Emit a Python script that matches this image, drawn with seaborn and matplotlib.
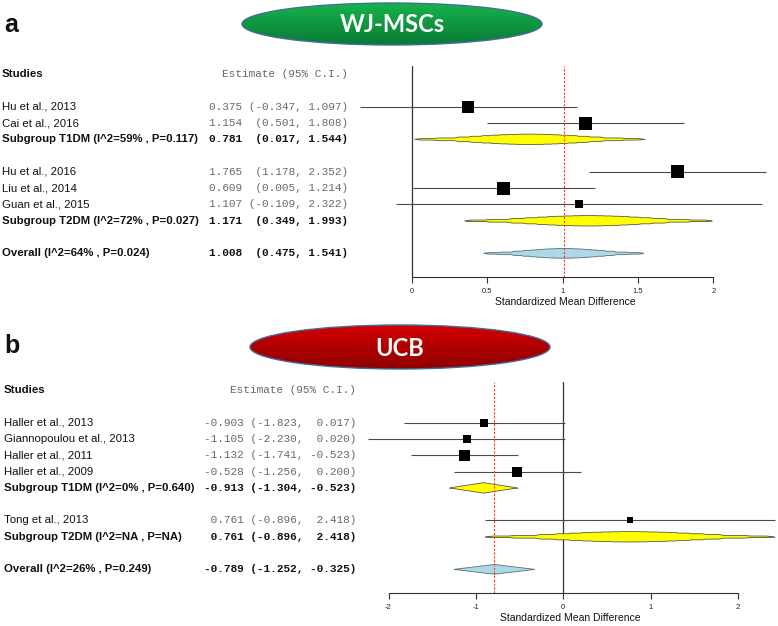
import numpy as np
import matplotlib
matplotlib.use("Agg")
import matplotlib.pyplot as plt
import matplotlib.transforms as mtransforms
from matplotlib.patches import Ellipse, Polygon
from matplotlib.colors import LinearSegmentedColormap
import pandas as pd
import seaborn as sns

# ---- panel a : WJ-MSCs ----
a_studies = ["Hu et al., 2013", "Cai et al., 2016", "Hu et al., 2016", "Liu et al., 2014", "Guan et al., 2015"]
a_group = ["T1DM", "T1DM", "T2DM", "T2DM", "T2DM"]
a_est = [0.375, 1.154, 1.765, 0.609, 1.107]
a_lo = [-0.347, 0.501, 1.178, 0.005, -0.109]
a_hi = [1.097, 1.808, 2.352, 1.214, 2.322]
a_box = [12, 13, 13, 13, 8]  # box side (px), reflects weight
a_sub_names = ["T1DM", "T2DM"]
a_sub_labels = ["Subgroup T1DM (I^2=59% , P=0.117)", "Subgroup T2DM (I^2=72% , P=0.027)"]
a_sub_est = [0.781, 1.171]
a_sub_lo = [0.017, 0.349]
a_sub_hi = [1.544, 1.993]
a_ov_label = "Overall (I^2=64% , P=0.024)"
a_ov = [1.008, 0.475, 1.541]
a_ticks = [0, 0.5, 1, 1.5, 2]

# ---- panel b : UCB ----
b_studies = ["Haller et al., 2013", "Giannopoulou et al., 2013", "Haller et al., 2011",
             "Haller et al., 2009", "Tong et al., 2013"]
b_group = ["T1DM", "T1DM", "T1DM", "T1DM", "T2DM"]
b_est = [-0.903, -1.105, -1.132, -0.528, 0.761]
b_lo = [-1.823, -2.230, -1.741, -1.256, -0.896]
b_hi = [0.017, 0.020, -0.523, 0.200, 2.418]
b_box = [8, 8, 11, 10, 6]
b_sub_names = ["T1DM", "T2DM"]
b_sub_labels = ["Subgroup T1DM (I^2=0% , P=0.640)", "Subgroup T2DM (I^2=NA , P=NA)"]
b_sub_est = [-0.913, 0.761]
b_sub_lo = [-1.304, -0.896]
b_sub_hi = [-0.523, 2.418]
b_ov_label = "Overall (I^2=26% , P=0.249)"
b_ov = [-0.789, -1.252, -0.325]
b_ticks = [-2, -1, 0, 1, 2]

W, H = 778, 626
# nested steps of the "spindle" summary shape (normal quantiles)
Z_STEPS = [1.96, 1.645, 1.28, 1.04, 0.84, 0.67, 0.52, 0.39, 0.25, 0.13]

sns.set_theme(style="white")
plt.rcParams['font.family'] = ['Liberation Sans', 'DejaVu Sans']
MONO = ["Liberation Mono", "DejaVu Sans Mono"]
LAB_FS = 8.2

fig = plt.figure(figsize=(W / 100, H / 100), dpi=100)


def fmt_rows(est, lo, hi):
    e = [f"{v:.3f}" for v in est]
    l = [f"({v:.3f}" for v in lo]
    h = [f"{v:.3f})" for v in hi]
    we, wl, wh = max(map(len, e)), max(map(len, l)), max(map(len, h))
    return [f"{x.rjust(we)} {y.rjust(wl)}, {z.rjust(wh)}" for x, y, z in zip(e, l, h)]


def summary_shape(ax, est, lo, hi, y, color, edge, spindle, hh=0.32):
    if spindle:
        # stepped outline made of nested CI levels
        se = (hi - lo) / 3.92
        left = []
        prev_h = 0.0
        for z in Z_STEPS:
            w = z * se
            h = hh * np.exp(-z * z / 2)
            d = 0.06 * w
            left.append((-w, prev_h))
            left.append((-w + d, h))
            prev_h = h
        top = left + [(-x, hgt) for x, hgt in reversed(left)]
        pts = [(est + x, y - hgt) for x, hgt in top]
        pts += [(est + x, y + hgt) for x, hgt in reversed(top)]
        ax.add_patch(Polygon(pts, closed=True, fc=color, ec=edge, lw=0.6, zorder=3))
    else:
        ax.add_patch(Polygon([(lo, y), (est, y - hh), (hi, y), (est, y + hh)],
                             closed=True, fc=color, ec=edge, lw=0.6, zorder=3))


def draw_panel(ax, studies, group, est, lo, hi, box, sub_names, sub_labels, sub_est, sub_lo,
               sub_hi, sub_spindle, ov_label, ov, ov_spindle, ticks, xlim, x_lab, x_est):
    # row layout
    rows, labels, kinds = [], [], []
    y = 2
    for g, lab in zip(sub_names, sub_labels):
        for i, s in enumerate(studies):
            if group[i] == g:
                rows.append(y); labels.append(s); kinds.append("study"); y += 1
        rows.append(y); labels.append(lab); kinds.append("sub"); y += 2
    rows.append(y); labels.append(ov_label); kinds.append("overall")

    all_est = list(est) + list(sub_est) + [ov[0]]
    all_lo = list(lo) + list(sub_lo) + [ov[1]]
    all_hi = list(hi) + list(sub_hi) + [ov[2]]
    order = []
    si = {s: i for i, s in enumerate(studies)}
    for lab, k in zip(labels, kinds):
        if k == "study":
            order.append(si[lab])
        elif k == "sub":
            order.append(len(studies) + sub_labels.index(lab))
        else:
            order.append(len(all_est) - 1)
    txt = fmt_rows([all_est[i] for i in order], [all_lo[i] for i in order],
                   [all_hi[i] for i in order])

    trans = mtransforms.blended_transform_factory(fig.transFigure, ax.transData)
    ax.text(x_lab / W, 0, "Studies", transform=trans, ha="left", va="center",
            fontsize=LAB_FS, fontweight="bold", color="#111")
    ax.text(x_est / W, 0, "Estimate (95% C.I.)", transform=trans, ha="right", va="center",
            fontsize=8, family=MONO, color="#666")
    for r, lab, k, t in zip(rows, labels, kinds, txt):
        bold = k != "study"
        ax.text(x_lab / W, r, lab, transform=trans, ha="left", va="center", fontsize=LAB_FS,
                fontweight="bold" if bold else "normal", color="#111")
        ax.text(x_est / W, r, t, transform=trans, ha="right", va="center", fontsize=8,
                family=MONO, fontweight="bold" if bold else "normal",
                color="#111" if bold else "#6a6a6a")

    # study CIs and boxes
    st_rows = [r for r, k in zip(rows, kinds) if k == "study"]
    st_idx = [si[l] for l, k in zip(labels, kinds) if k == "study"]
    df = pd.DataFrame({
        "est": [est[i] for i in st_idx],
        "lo": [lo[i] for i in st_idx],
        "hi": [hi[i] for i in st_idx],
        "row": st_rows,
        "area": [(box[i] * 0.72) ** 2 for i in st_idx],
    })
    ax.hlines(df["row"], df["lo"], df["hi"], color="#4a4a4a", lw=0.8, zorder=2)
    sns.scatterplot(data=df, x="est", y="row", size="area",
                    sizes=(df["area"].min(), df["area"].max()), marker="s", color="black",
                    linewidth=0, legend=False, ax=ax, zorder=4)

    # subgroup and overall shapes
    sub_rows = [r for r, k in zip(rows, kinds) if k == "sub"]
    for r, e, l, h, sp in zip(sub_rows, sub_est, sub_lo, sub_hi, sub_spindle):
        ax.hlines(r, l, h, color="#8a8a8a", lw=0.7, zorder=2)
        summary_shape(ax, e, l, h, r, "#ffff00", "#5a5a40", sp)
    summary_shape(ax, ov[0], ov[1], ov[2], rows[-1], "#add8e6", "#5a6f78", ov_spindle, hh=0.3)

    ax.axvline(0, color="#333", lw=0.9, zorder=1)
    ax.axvline(ov[0], color="#ff3030", lw=0.8, ls=(0, (2, 1.5)), zorder=5)

    ax.set_xlim(*xlim)
    ax.set_ylim(12.45, -0.5)
    ax.set_yticks([])
    ax.set_ylabel("")
    ax.set_xticks(ticks)
    ax.set_xticklabels([f"{t:g}" for t in ticks])
    ax.tick_params(axis="x", bottom=True, length=4, width=0.8, pad=4, labelsize=5.5,
                   color="#333", labelcolor="#222")
    for s in ["left", "top", "right"]:
        ax.spines[s].set_visible(False)
    ax.spines["bottom"].set_bounds(ticks[0], ticks[-1])
    ax.spines["bottom"].set_color("#333")
    ax.spines["bottom"].set_linewidth(0.8)
    ax.set_xlabel("Standardized Mean Difference", fontsize=7.5, labelpad=1.2, color="#111")
    ax.patch.set_alpha(0)


# panel axes (pixel geometry -> figure fraction)
xa = (-0.4, 2.43)
ax_a = fig.add_axes([351.7 / W, 1 - 277 / H, (778 - 351.7) / W, 211 / H])
draw_panel(ax_a, a_studies, a_group, a_est, a_lo, a_hi, a_box, a_sub_names, a_sub_labels,
           a_sub_est, a_sub_lo, a_sub_hi, [True, True], a_ov_label, a_ov, True,
           a_ticks, xa, 2, 348)

xb = (-2.3, 2.45)
ax_b = fig.add_axes([362.3 / W, 1 - 593 / H, (777.4 - 362.3) / W, 211 / H])
draw_panel(ax_b, b_studies, b_group, b_est, b_lo, b_hi, b_box, b_sub_names, b_sub_labels,
           b_sub_est, b_sub_lo, b_sub_hi, [False, True], b_ov_label, b_ov, False,
           b_ticks, xb, 4, 356)

# overlay for panel letters and banners
ov_ax = fig.add_axes([0, 0, 1, 1], zorder=-1)
ov_ax.set_axis_off()


def banner(cx, cy, w, h, c_top, c_bot, text):
    ell = Ellipse((cx, cy), w, h, fc="none", ec="#3f6f9a", lw=1.0, zorder=3)
    ov_ax.add_patch(ell)
    grad = np.linspace(0, 1, 64).reshape(-1, 1)
    cmap = LinearSegmentedColormap.from_list("g", [c_top, c_bot])
    im = ov_ax.imshow(grad, extent=(cx - w / 2, cx + w / 2, cy + h / 2, cy - h / 2),
                      cmap=cmap, aspect="auto", origin="upper", zorder=2)
    im.set_clip_path(ell)
    ov_ax.text(cx, cy + 1, text, ha="center", va="center", color="white", fontsize=17,
               fontweight="bold", family=["Lato", "DejaVu Sans"], zorder=4)


banner(392, 24, 300, 42, "#17b24c", "#0a7a35", "WJ-MSCs")
banner(400, 347, 300, 44, "#d40000", "#8e0000", "UCB")
ov_ax.text(4, 25, "a", ha="left", va="center", fontsize=18, fontweight="bold", color="#111")
ov_ax.text(4, 346, "b", ha="left", va="center", fontsize=18, fontweight="bold", color="#111")
ov_ax.set_xlim(0, W)
ov_ax.set_ylim(H, 0)

fig.savefig("out.png", dpi=100)
